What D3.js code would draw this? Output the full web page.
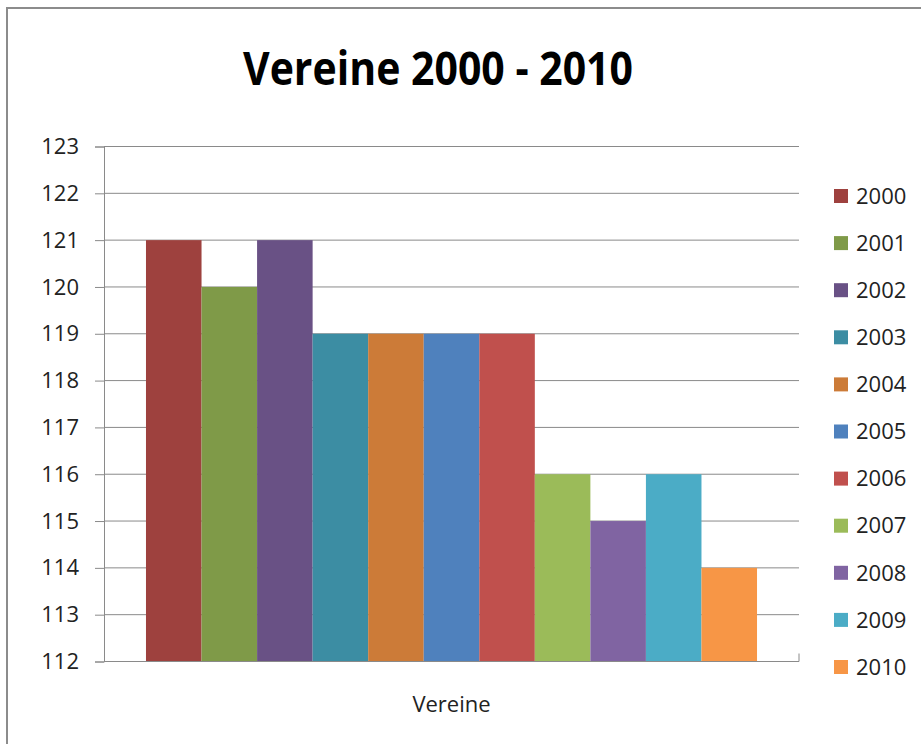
<!DOCTYPE html>
<html>
<head>
<meta charset="utf-8">
<script src="https://cdn.jsdelivr.net/npm/d3@7"></script>
<style>
  body { margin: 0; background: #fff; }
  svg { display: block; font-family: "Open Sans", "DejaVu Sans", sans-serif; }
</style>
</head>
<body>
<svg id="svg" width="921" height="744"></svg>
<script>
// data
const categories = ["Vereine"];
const years = ["2000", "2001", "2002", "2003", "2004", "2005", "2006", "2007", "2008", "2009", "2010"];
const values = [121, 120, 121, 119, 119, 119, 119, 116, 115, 116, 114];
const colors = ["#9E413E", "#7F9A48", "#695185", "#3C8DA3", "#CC7B38", "#4F81BD",
                "#C0504D", "#9BBB59", "#8064A2", "#4BACC6", "#F79646"];
const yTicks = [112, 113, 114, 115, 116, 117, 118, 119, 120, 121, 122, 123];

const svg = d3.select("#svg");

// outer chart frame
svg.append("rect").attr("x", 7).attr("y", 8).attr("width", 930).attr("height", 760)
  .attr("fill", "none").attr("stroke", "#8c8c8c").attr("stroke-width", 2);

const plotL = 104, plotR = 799, plotT = 146.5, plotB = 661.5;

const y = d3.scaleLinear().domain([112, 123]).range([plotB, plotT]);
const x0 = d3.scaleBand().domain(categories).range([plotL, plotR]).paddingInner(0).paddingOuter(0.0687);
const x1 = d3.scaleBand().domain(years).range([0, x0.bandwidth()]).padding(0);

// gridlines
svg.append("g").selectAll("line").data(yTicks.filter(d => d > 112)).join("line")
  .attr("x1", plotL).attr("x2", plotR)
  .attr("y1", d => y(d)).attr("y2", d => y(d))
  .attr("stroke", "#8a8a8a").attr("stroke-width", 1);

// bars
svg.append("g").selectAll("g").data(categories).join("g")
  .attr("transform", d => `translate(${x0(d)},0)`)
  .selectAll("rect").data(years.map((yr, i) => ({ yr, v: values[i], c: colors[i] }))).join("rect")
  .attr("x", d => x1(d.yr)).attr("width", x1.bandwidth())
  .attr("y", d => y(d.v)).attr("height", d => y(112) - y(d.v))
  .attr("fill", d => d.c);

// y axis
const yAxis = svg.append("g").attr("transform", `translate(${plotL},0)`)
  .call(d3.axisLeft(y).tickValues(yTicks).tickSize(9).tickPadding(16).tickFormat(d3.format("d")));
yAxis.select(".domain").attr("stroke", "#8a8a8a");
yAxis.selectAll(".tick line").attr("stroke", "#8a8a8a");
yAxis.selectAll("text").style("font-size", "22px").attr("fill", "#222")
  .style("font-family", "'Open Sans', sans-serif");

// x axis
const xAxis = svg.append("g").attr("transform", `translate(0,${plotB})`)
  .call(d3.axisBottom(x0).tickSize(0).tickFormat(""));
xAxis.select(".domain").attr("stroke", "#8a8a8a").attr("d", `M${plotL},0H${plotR}V-8`);

svg.append("text").attr("x", x0("Vereine") + x0.bandwidth() / 2).attr("y", 712)
  .attr("text-anchor", "middle").style("font-size", "22px").attr("fill", "#222")
  .text("Vereine");

// title
svg.append("text").attr("x", 438).attr("y", 85).attr("text-anchor", "middle")
  .style("font-size", "46px").style("font-weight", 700).attr("fill", "#000")
  .attr("textLength", 390).attr("lengthAdjust", "spacingAndGlyphs")
  .text("Vereine 2000 - 2010");

// legend
const legend = svg.append("g").selectAll("g").data(years).join("g")
  .attr("transform", (d, i) => `translate(834,${196 + i * 47.1})`);
legend.append("rect").attr("x", 0).attr("y", -7).attr("width", 14).attr("height", 14)
  .attr("fill", (d, i) => colors[i]);
legend.append("text").attr("x", 22).attr("y", 0).attr("dy", "0.35em")
  .style("font-size", "22px").attr("fill", "#222").text(d => d);
</script>
</body>
</html>
